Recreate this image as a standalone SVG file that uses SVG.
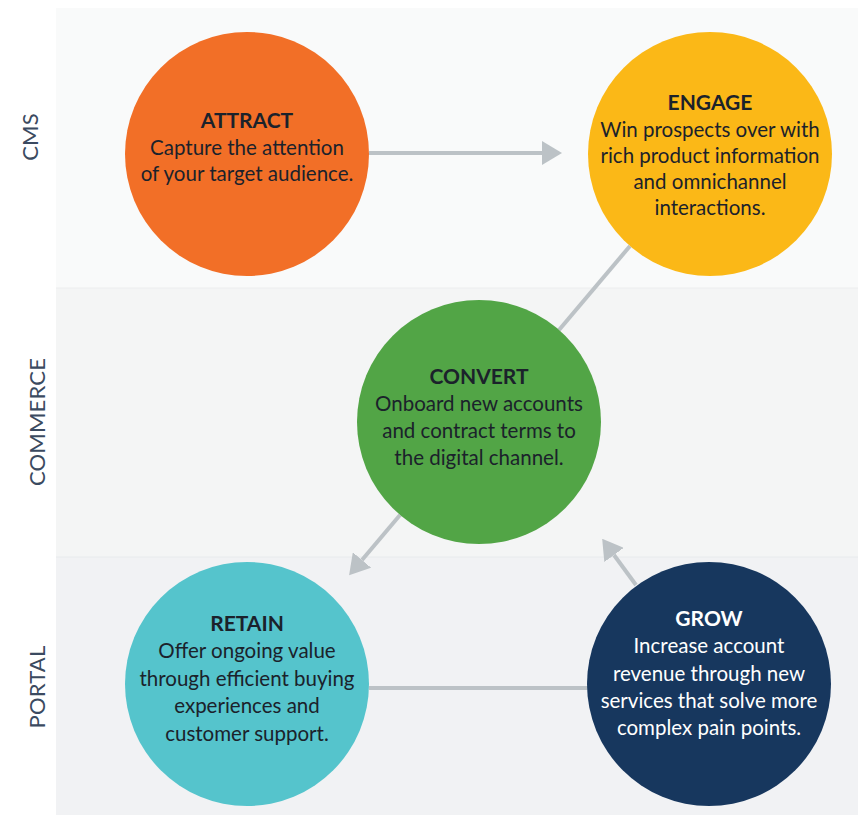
<svg xmlns="http://www.w3.org/2000/svg" width="858" height="815" viewBox="0 0 858 815">
<style>
.side{font-family:Lato,"Noto Sans",sans-serif;font-size:22px;fill:#3b4a60;letter-spacing:0.2px;text-anchor:middle}
.title{font-family:Lato,"Noto Sans",sans-serif;font-size:21px;font-weight:bold;fill:#1b222b;text-anchor:middle}
.body{font-family:Lato,"Noto Sans",sans-serif;font-size:20.5px;fill:#1b222b;text-anchor:middle}
.light{fill:#ffffff}
.conn{stroke:#bcc2c6;stroke-width:4;fill:none}
</style>
<defs>
<marker id="arrow" markerUnits="userSpaceOnUse" markerWidth="20" markerHeight="24" refX="0" refY="12" orient="auto" viewBox="0 0 20 24">
<path d="M0,0 L20,12 L0,24 z" fill="#bcc2c6"/>
</marker>
</defs>
<rect width="858" height="815" fill="#ffffff"/>
<g id="bands">
<rect x="56" y="8" width="802" height="280" fill="#f9fafa"/>
<rect x="56" y="288" width="802" height="269" fill="#f4f5f5"/>
<rect x="56" y="557" width="802" height="258" fill="#f1f2f4"/>
<line x1="56" y1="288" x2="858" y2="288" stroke="#eceeef" stroke-width="1"/>
<line x1="56" y1="557" x2="858" y2="557" stroke="#e8eaec" stroke-width="1"/>
</g>
<g id="lane-labels">
<text class="side" transform="translate(38,137) rotate(-90)">CMS</text>
<text class="side" transform="translate(45,422) rotate(-90)">COMMERCE</text>
<text class="side" transform="translate(45,687) rotate(-90)">PORTAL</text>
</g>
<g id="connectors">
<line class="conn" x1="369" y1="153" x2="542" y2="153" marker-end="url(#arrow)"/>
<line class="conn" x1="630" y1="246" x2="559" y2="330"/>
<line class="conn" x1="400" y1="515" x2="362" y2="560" marker-end="url(#arrow)"/>
<line class="conn" x1="636" y1="585" x2="614" y2="555" marker-end="url(#arrow)"/>
<line class="conn" x1="369" y1="688" x2="588" y2="688"/>
</g>
<g id="attract">
<circle cx="247" cy="154" r="122" fill="#f26f27"/>
<text class="title" x="247" y="128">ATTRACT</text>
<text class="body" x="247" y="155">Capture the attention</text>
<text class="body" x="247" y="181">of your target audience.</text>
</g>
<g id="engage">
<circle cx="710" cy="154" r="122" fill="#fbb817"/>
<text class="title" x="710" y="110">ENGAGE</text>
<text class="body" x="710" y="137">Win prospects over with</text>
<text class="body" x="710" y="163">rich product information</text>
<text class="body" x="710" y="189">and omnichannel</text>
<text class="body" x="710" y="215">interactions.</text>
</g>
<g id="convert">
<circle cx="479" cy="422" r="122" fill="#52a546"/>
<text class="title" x="479" y="384">CONVERT</text>
<text class="body" x="479" y="411">Onboard new accounts</text>
<text class="body" x="479" y="438">and contract terms to</text>
<text class="body" x="479" y="465">the digital channel.</text>
</g>
<g id="retain">
<circle cx="247" cy="684" r="122" fill="#55c4cc"/>
<text class="title" x="247" y="631">RETAIN</text>
<text class="body" x="247" y="658">Offer ongoing value</text>
<text class="body" x="247" y="686">through efficient buying</text>
<text class="body" x="247" y="713">experiences and</text>
<text class="body" x="247" y="741">customer support.</text>
</g>
<g id="grow">
<circle cx="709" cy="684" r="122" fill="#17375e"/>
<text class="title light" x="709" y="626">GROW</text>
<text class="body light" x="709" y="653">Increase account</text>
<text class="body light" x="709" y="681">revenue through new</text>
<text class="body light" x="709" y="708">services that solve more</text>
<text class="body light" x="709" y="735">complex pain points.</text>
</g>
</svg>
